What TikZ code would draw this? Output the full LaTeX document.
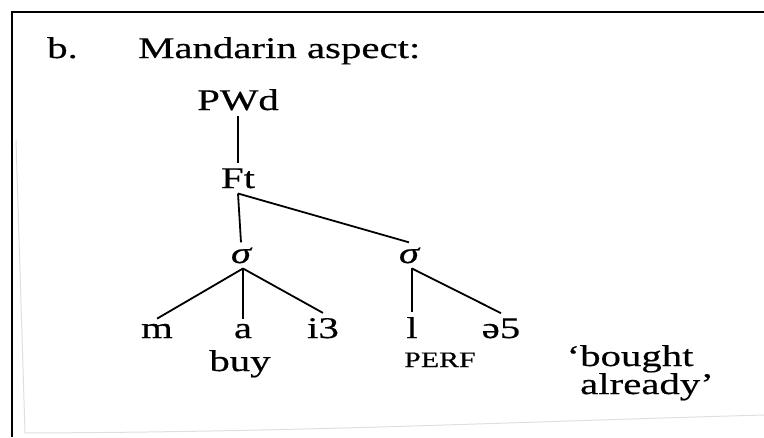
\documentclass[tikz,border=0pt]{standalone}
\usepackage{fontspec}
\setmainfont{Liberation Serif}[FakeStretch=1.36, FakeBold=0.5]

\begin{document}
\begin{tikzpicture}[
  x=1pt, y=-1pt,
  every node/.style={font=\fontsize{30}{34}\selectfont, inner sep=5pt},
  lbl/.style={anchor=base},
  gloss/.style={anchor=base west},
  branch/.style={line width=1.8pt},
  frame/.style={line width=2.2pt},
  edge/.style={gray!25, line width=1pt},
]
\useasboundingbox (0,0) rectangle (764,437);

%% Scan frame and page edge
\draw[frame] (12,437) -- (12,12) -- (764,12);
\draw[edge] (16,140) -- (25,433);
\draw[edge] (25,433) .. controls (300,432) and (480,423) .. (764,415);

%% Heading
\node[gloss] (ex) at (42,58) {b.};
\node[gloss] (title) at (133,58) {Mandarin aspect:};

%% Prosodic word, foot, syllables
\node[lbl] (pwd) at (238,110) {PWd};
\node[lbl] (ft) at (238,188) {Ft};
\node[lbl] (syl1) at (241,263) {\itshape σ};
\node[lbl] (syl2) at (409,263) {\itshape σ};

%% Segments
\node[lbl] (m) at (157,338) {m};
\node[lbl] (a) at (243,338) {a};
\node[lbl] (i3) at (323,338) {i3};
\node[lbl] (l) at (412,338) {l};
\node[lbl] (schwa) at (501,338) {ə5};

%% Glosses
\node[lbl] (buy) at (240,371) {buy};
\node[lbl, font=\fontsize{22}{24}\selectfont] (perf) at (440,367) {PERF};
\node[gloss] (tr1) at (575,366) {\llap{`}bought};
\node[gloss] (tr2) at (575,394) {already'};

%% Tree
\draw[branch] (pwd.south) -- (ft.north);
\draw[branch] (ft.south) -- (syl1.north);
\draw[branch] (ft.south) -- (syl2.north);
\foreach \seg in {m,a,i3} {
  \draw[branch] (a.north |- syl1.south) -- (\seg.north);
}
\draw[branch] (l.north |- syl2.south) -- (l.north);
\draw[branch] (l.north |- syl2.south) -- (schwa.north);

\end{tikzpicture}
\end{document}
